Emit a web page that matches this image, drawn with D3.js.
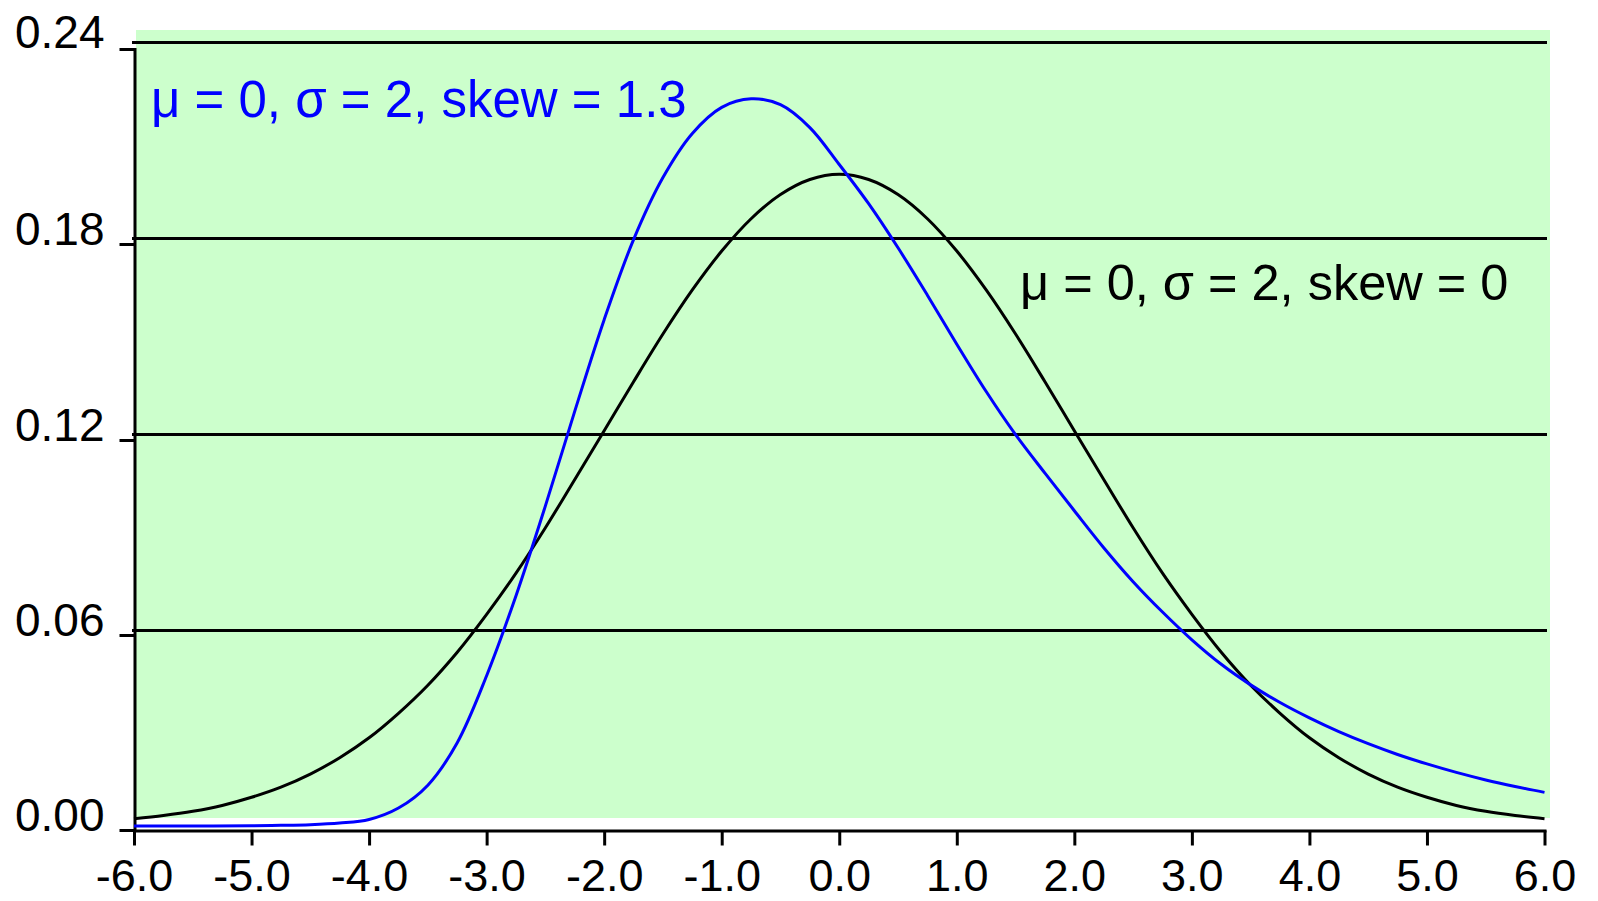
<!DOCTYPE html>
<html>
<head>
<meta charset="utf-8">
<script src="https://cdn.jsdelivr.net/npm/d3@7"></script>
<style>
  html, body { margin: 0; padding: 0; background: #ffffff; }
  svg { display: block; }
  text { font-family: "Liberation Sans", Arial, sans-serif; }
</style>
</head>
<body>
<svg id="chart" width="1598" height="901"></svg>
<script>
// Density of the symmetric curve (mu = 0, sigma = 2, skew = 0)
const normalX = [-6, -5.75, -5.5, -5.25, -5, -4.75, -4.5, -4.25, -4, -3.75, -3.5, -3.25, -3, -2.75, -2.5, -2.25, -2, -1.75, -1.5, -1.25, -1, -0.75, -0.5, -0.25,
                 0, 0.25, 0.5, 0.75, 1, 1.25, 1.5, 1.75, 2, 2.25, 2.5, 2.75, 3, 3.25, 3.5, 3.75, 4, 4.25, 4.5, 4.75, 5, 5.25, 5.5, 5.75, 6];
const normalY = [0.0022, 0.0032, 0.0045, 0.0063, 0.0088, 0.0119, 0.0159, 0.0209, 0.0270, 0.0345, 0.0431, 0.0532, 0.0648, 0.0774, 0.0913, 0.1061, 0.1210, 0.1360, 0.1506, 0.1641, 0.1760, 0.1859, 0.1933, 0.1979,
                 0.1995, 0.1979, 0.1933, 0.1859, 0.1760, 0.1641, 0.1506, 0.1360, 0.1210, 0.1061, 0.0913, 0.0774, 0.0648, 0.0532, 0.0431, 0.0345, 0.0270, 0.0209, 0.0159, 0.0119, 0.0088, 0.0063, 0.0045, 0.0032, 0.0022];

// Density of the skewed curve (mu = 0, sigma = 2, skew = 1.3)
const skewX = [-6, -5.5, -5, -4.75, -4.5, -4.25, -4, -3.75, -3.5, -3.25, -3, -2.75, -2.5, -2.25, -2, -1.75, -1.5, -1.25, -1, -0.75, -0.5, -0.25,
               0, 0.25, 0.5, 0.75, 1, 1.25, 1.5, 1.75, 2, 2.25, 2.5, 2.75, 3, 3.25, 3.5, 3.75, 4, 4.25, 4.5, 4.75, 5, 5.25, 5.5, 5.75, 6];
const skewY = [0.0000, 0.0000, 0.0001, 0.0002, 0.0004, 0.0009, 0.0020, 0.0055, 0.0125, 0.0255, 0.0460, 0.0705, 0.0980, 0.1270, 0.1550, 0.1795, 0.1985, 0.2120, 0.2200, 0.2226, 0.2208, 0.2138,
               0.2025, 0.1905, 0.1770, 0.1625, 0.1475, 0.1330, 0.1198, 0.1080, 0.0965, 0.0852, 0.0748, 0.0655, 0.0570, 0.0495, 0.0432, 0.0378, 0.0331, 0.0289, 0.0252, 0.0219, 0.0190, 0.0164, 0.0141, 0.0121, 0.0103];

const xTickValues = [-6, -5, -4, -3, -2, -1, 0, 1, 2, 3, 4, 5, 6];
const xTickLabels = ["-6.0", "-5.0", "-4.0", "-3.0", "-2.0", "-1.0", "0.0", "1.0", "2.0", "3.0", "4.0", "5.0", "6.0"];
const yTickValues = [0, 0.06, 0.12, 0.18, 0.24];
const yTickLabels = ["0.00", "0.06", "0.12", "0.18", "0.24"];
const gridValues = [0.06, 0.12, 0.18, 0.24];
const curveLabels = ["μ = 0, σ = 2, skew = 1.3", "μ = 0, σ = 2, skew = 0"];

const svg = d3.select("#chart");

// Scales: the axis frame and the plotting area are offset by a few pixels
const x = d3.scaleLinear().domain([-6, 6]).range([134, 1544.5]);
const yAxisScale = d3.scaleLinear().domain([0, 0.24]).range([830, 49]);
const y = d3.scaleLinear().domain([0, 0.24]).range([826, 42]);
const crisp = v => Math.round(v) + 0.5;

// Plot background
svg.append("rect")
  .attr("x", 136).attr("y", 30)
  .attr("width", 1550 - 136).attr("height", 818 - 30)
  .attr("fill", "#ccffcc");

// Horizontal grid lines
svg.append("g").selectAll("line")
  .data(gridValues)
  .join("line")
  .attr("x1", 132).attr("x2", 1547)
  .attr("y1", d => crisp(y(d))).attr("y2", d => crisp(y(d)))
  .attr("stroke", "#000").attr("stroke-width", 3);

// Y axis
const yAxis = svg.append("g")
  .attr("transform", "translate(134.5,0)")
  .call(d3.axisLeft(yAxisScale)
    .tickValues(yTickValues)
    .tickFormat((d, i) => yTickLabels[i])
    .tickSize(15)
    .tickSizeOuter(0));
yAxis.select(".domain").attr("stroke", "#000").attr("stroke-width", 3).attr("stroke-linecap", "square");
yAxis.selectAll(".tick").attr("transform", d => `translate(0,${crisp(yAxisScale(d))})`);
yAxis.selectAll(".tick line").attr("stroke", "#000").attr("stroke-width", 3);
yAxis.selectAll(".tick text")
  .attr("x", -30).attr("dy", null).attr("y", d => d === 0.24 ? -2 : 0.5)
  .attr("fill", "#000")
  .style("font-size", "46px")
  .style("font-family", "'Liberation Sans', Arial, sans-serif");

// X axis
const xAxis = svg.append("g")
  .attr("transform", "translate(0,830.5)")
  .call(d3.axisBottom(x)
    .tickValues(xTickValues)
    .tickFormat((d, i) => xTickLabels[i])
    .tickSize(15)
    .tickSizeOuter(0));
xAxis.select(".domain").attr("stroke", "#000").attr("stroke-width", 3).attr("stroke-linecap", "square");
xAxis.selectAll(".tick line").attr("stroke", "#000").attr("stroke-width", 3);
xAxis.selectAll(".tick text")
  .attr("y", 60.5).attr("dy", null)
  .attr("fill", "#000")
  .style("font-size", "45px")
  .style("font-family", "'Liberation Sans', Arial, sans-serif");

// Density curves
const line = d3.line()
  .x(d => x(d[0]))
  .y(d => y(d[1]))
  .curve(d3.curveCatmullRom.alpha(0.5));

const normalPoints = normalX.map((v, i) => [v, normalY[i]]);
const skewPoints = skewX.map((v, i) => [v, skewY[i]]);

svg.append("path")
  .datum(normalPoints)
  .attr("d", line)
  .attr("fill", "none")
  .attr("stroke", "#000000")
  .attr("stroke-width", 3);

svg.append("path")
  .datum(skewPoints)
  .attr("d", line)
  .attr("fill", "none")
  .attr("stroke", "#0000ff")
  .attr("stroke-width", 3);

// Curve labels
svg.append("text")
  .attr("x", 151).attr("y", 117)
  .attr("fill", "#0000ff")
  .style("font-size", "51px")
  .text(curveLabels[0]);

svg.append("text")
  .attr("x", 1020).attr("y", 300)
  .attr("fill", "#000000")
  .style("font-size", "50.5px")
  .text(curveLabels[1]);
</script>
</body>
</html>
